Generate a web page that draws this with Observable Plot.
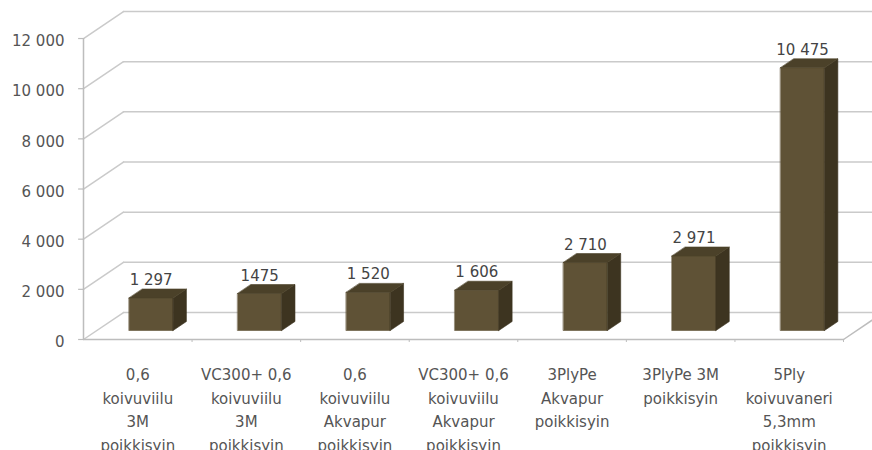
<!DOCTYPE html>
<html>
<head>
<meta charset="utf-8">
<script src="https://cdn.jsdelivr.net/npm/d3@7"></script>
<script src="https://cdn.jsdelivr.net/npm/@observablehq/plot@0.6"></script>
<style>
  html, body { margin: 0; padding: 0; background: #fff; }
  #chart svg { display: block; }
</style>
</head>
<body>
<div id="chart"></div>
<script>
// Categories (multi-line labels), values and the printed value labels
const categories = [
  "0,6\nkoivuviilu\n3M\npoikkisyin",
  "VC300+ 0,6\nkoivuviilu\n3M\npoikkisyin",
  "0,6\nkoivuviilu\nAkvapur\npoikkisyin",
  "VC300+ 0,6\nkoivuviilu\nAkvapur\npoikkisyin",
  "3PlyPe\nAkvapur\npoikkisyin",
  "3PlyPe 3M\npoikkisyin",
  "5Ply\nkoivuvaneri\n5,3mm\npoikkisyin"
];
const values = [1297, 1475, 1520, 1606, 2710, 2971, 10475];
const valueLabels = ["1 297", "1475", "1 520", "1 606", "2 710", "2 971", "10 475"];
const yTicks = [0, 2000, 4000, 6000, 8000, 10000, 12000];

// Oblique 3D projection expressed in data units:
// depth 0 = front plane, depth 1 = back wall.
const DX = 0.368;    // horizontal shift of the back wall (category units)
const DY = 1076;     // vertical shift of the back wall (value units)
const BAR_W = 0.405; // bar width (category units)
const D0 = 1 / 3, D1 = 2 / 3; // bar depth range
const X_MAX = 7.267;

const proj = (cx, v, d) => ({x: cx + d * DX, y: v + d * DY});

// Bar faces as closed polygons
const faces = [];
values.forEach((v, i) => {
  const xl = i + 0.5 - BAR_W / 2, xr = i + 0.5 + BAR_W / 2;
  const add = (face, pts) => pts.forEach(p => faces.push({id: `${i}-${face}`, face, ...p}));
  add("front", [proj(xl, 0, D0), proj(xr, 0, D0), proj(xr, v, D0), proj(xl, v, D0)]);
  add("side",  [proj(xr, 0, D0), proj(xr, 0, D1), proj(xr, v, D1), proj(xr, v, D0)]);
  add("top",   [proj(xl, v, D0), proj(xr, v, D0), proj(xr, v, D1), proj(xl, v, D1)]);
});
const faceColor = {front: "#5f5236", side: "#3d3420", top: "#4b4129"};

// Walls: back gridlines, left-wall slants, floor outline
const wallLines = [];
yTicks.forEach(v => {
  wallLines.push({id: `b${v}`, ...proj(0, v, 1)}, {id: `b${v}`, x: X_MAX, y: v + DY});
  wallLines.push({id: `l${v}`, ...proj(0, v, 0)}, {id: `l${v}`, ...proj(0, v, 1)});
});
const floorLines = [
  {id: "front", ...proj(0, 0, 0)}, {id: "front", ...proj(7, 0, 0)},
  {id: "right", ...proj(7, 0, 0)}, {id: "right", ...proj(7, 0, 1)}
];

const fmt = v => d3.format(",")(v).replace(/,/g, " ");

const chart = Plot.plot({
  width: 872,
  height: 450,
  marginLeft: 83,
  marginRight: 0,
  marginTop: 0,
  marginBottom: 111,
  style: {fontFamily: "'DejaVu Sans', sans-serif", fontSize: "15px", color: "#555", background: "#fff"},
  x: {domain: [0, X_MAX], axis: null},
  y: {domain: [0, 13516], axis: null},
  marks: [
    Plot.line(wallLines, {x: "x", y: "y", z: "id", stroke: "#cacaca", strokeWidth: 1.5}),
    Plot.line(floorLines, {x: "x", y: "y", z: "id", stroke: "#bdbdbd", strokeWidth: 1.5}),
    // front value axis: line, ticks and labels
    Plot.ruleX([0], {y1: 0, y2: 12000, stroke: "#bdbdbd", strokeWidth: 1.5}),
    Plot.ruleY(yTicks, {x1: -0.045, x2: 0, stroke: "#bdbdbd", strokeWidth: 1.2}),
    Plot.text(yTicks, {
      x: 0, y: d => d, text: fmt, textAnchor: "end", dx: -19, dy: 3,
      fill: "#555", fontSize: 15
    }),
    // category ticks below the floor
    Plot.ruleX([1, 2, 3, 4, 5, 6, 7], {y1: 0, y2: -120, stroke: "#bdbdbd"}),
    Plot.line(faces, {
      x: "x", y: "y", z: "id", curve: "linear-closed",
      fill: d => faceColor[d.face], stroke: d => faceColor[d.face], strokeWidth: 0.6
    }),
    Plot.text(values, {
      x: (d, i) => i + 0.5 + D0 * DX,
      y: d => d + D1 * DY,
      text: (d, i) => valueLabels[i],
      lineAnchor: "bottom", dy: -4, fill: "#444", fontSize: 15
    }),
    Plot.text(categories, {
      x: (d, i) => i + 0.5,
      y: 0,
      text: d => d,
      lineAnchor: "top", dy: 24, lineHeight: 1.57, fill: "#555", fontSize: 15
    })
  ]
});

document.getElementById("chart").append(chart);
</script>
</body>
</html>
